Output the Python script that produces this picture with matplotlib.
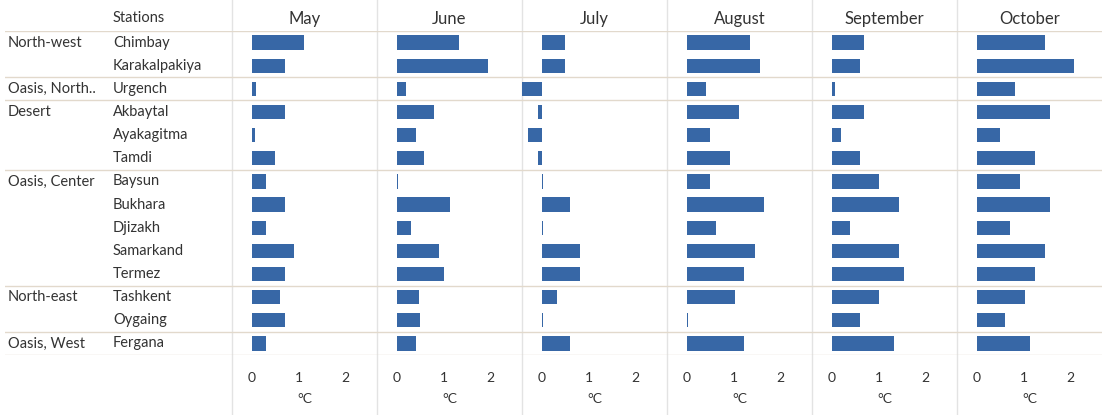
import matplotlib
matplotlib.use('Agg')
import matplotlib.pyplot as plt

plt.rcParams['font.family'] = ['Lato', 'DejaVu Sans']

stations = ['Chimbay', 'Karakalpakiya', 'Urgench', 'Akbaytal', 'Ayakagitma', 'Tamdi',
            'Baysun', 'Bukhara', 'Djizakh', 'Samarkand', 'Termez', 'Tashkent',
            'Oygaing', 'Fergana']
regions = ['North-west', '', 'Oasis, North..', 'Desert', '', '', 'Oasis, Center',
           '', '', '', '', 'North-east', '', 'Oasis, West']
group_breaks = [1.5, 2.5, 5.5, 10.5, 12.5]
months = ['May', 'June', 'July', 'August', 'September', 'October']

may = [1.10, 0.70, 0.08, 0.70, 0.06, 0.49, 0.29, 0.70, 0.29, 0.89, 0.70, 0.60, 0.70, 0.30]
june = [1.33, 1.94, 0.19, 0.79, 0.40, 0.58, 0.02, 1.12, 0.29, 0.90, 1.01, 0.47, 0.49, 0.40]
july = [0.49, 0.49, -0.48, -0.08, -0.30, -0.09, 0.02, 0.60, 0.01, 0.81, 0.81, 0.32, 0.01, 0.60]
august = [1.34, 1.56, 0.41, 1.11, 0.49, 0.91, 0.49, 1.64, 0.61, 1.45, 1.22, 1.02, 0.01, 1.22]
september = [0.68, 0.59, 0.07, 0.68, 0.18, 0.59, 1.01, 1.43, 0.39, 1.43, 1.53, 1.01, 0.59, 1.32]
october = [1.44, 2.06, 0.81, 1.56, 0.49, 1.23, 0.91, 1.56, 0.70, 1.44, 1.23, 1.02, 0.59, 1.12]
values = [may, june, july, august, september, october]

W, H = 1102, 415
fig = plt.figure(figsize=(W / 100, H / 100), dpi=100)

bar_color = '#3767a6'
hline_color = '#e2d9cc'
vline_color = '#e3e3e3'
text_color = '#333333'

top_px, bottom_px = 31, 355
panel_left, panel_w = 232, 145
n = len(stations)
rows = list(range(n))


def frac_box(x0, x1):
    return [x0 / W, 1 - bottom_px / H, (x1 - x0) / W, (bottom_px - top_px) / H]


# vertical dividers run over the whole height
bg = fig.add_axes([0, 0, 1, 1], zorder=0)
bg.set_xlim(0, W)
bg.set_ylim(H, 0)
bg.axis('off')
for i in range(len(months)):
    bg.axvline(panel_left + i * panel_w, color=vline_color, lw=1)

# region / station labels
lab = fig.add_axes(frac_box(5, panel_left), zorder=1)
lab.set_xlim(0, panel_left - 5)
lab.set_ylim(n - 0.5, -0.5)
lab.axis('off')
for y in [-0.5, n - 0.5] + group_breaks:
    lab.axhline(y, color=hline_color, lw=1)
for i, (reg, st) in enumerate(zip(regions, stations)):
    lab.text(108, i, st, ha='left', va='center', fontsize=10.5, color=text_color)
    if reg:
        lab.text(3, i, reg, ha='left', va='center', fontsize=10.5, color=text_color)
lab.text(108, -1.05, 'Stations', ha='left', va='center', fontsize=10.5,
         color=text_color, clip_on=False)

for i, (month, vals) in enumerate(zip(months, values)):
    x0 = panel_left + i * panel_w
    ax = fig.add_axes(frac_box(x0, x0 + panel_w), zorder=1)
    ax.patch.set_alpha(0)
    ax.barh(rows, vals, height=0.62, color=bar_color)
    ax.set_ylim(n - 0.5, -0.5)
    ax.set_xlim(-0.43, -0.43 + panel_w / 46.8)
    for y in [-0.5, n - 0.5] + group_breaks:
        ax.axhline(y, color=hline_color, lw=1, zorder=0)
    for s in ax.spines.values():
        s.set_visible(False)
    ax.set_yticks([])
    ax.set_xticks([0, 1, 2])
    ax.tick_params(axis='x', length=0, pad=12, labelsize=10, labelcolor=text_color)
    ax.set_xlabel('°C', fontsize=10, color=text_color, labelpad=7)
    ax.set_title(month, fontsize=12, color=text_color, pad=5)

fig.savefig('out.png', dpi=100)
